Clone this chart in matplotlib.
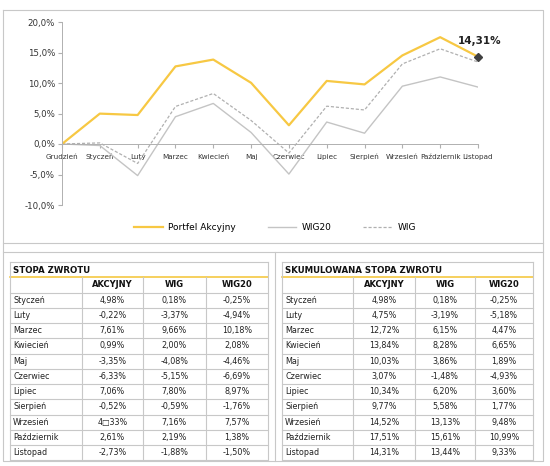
import numpy as np
import matplotlib.pyplot as plt
from matplotlib.lines import Line2D

# data
months = ['Grudzień', 'Styczeń', 'Luty', 'Marzec', 'Kwiecień', 'Maj', 'Czerwiec',
          'Lipiec', 'Sierpień', 'Wrzesień', 'Październik', 'Listopad']
cum_akcyjny = [0, 4.98, 4.75, 12.72, 13.84, 10.03, 3.07, 10.34, 9.77, 14.52, 17.51, 14.31]
cum_wig = [0, 0.18, -3.19, 6.15, 8.28, 3.86, -1.48, 6.20, 5.58, 13.13, 15.61, 13.44]
cum_wig20 = [0, -0.25, -5.18, 4.47, 6.65, 1.89, -4.93, 3.60, 1.77, 9.48, 10.99, 9.33]

table_cols = ['AKCYJNY', 'WIG', 'WIG20']
stopa_akcyjny = ['4,98%', '-0,22%', '7,61%', '0,99%', '-3,35%', '-6,33%', '7,06%', '-0,52%', '4\u25a133%', '2,61%', '-2,73%']
stopa_wig = ['0,18%', '-3,37%', '9,66%', '2,00%', '-4,08%', '-5,15%', '7,80%', '-0,59%', '7,16%', '2,19%', '-1,88%']
stopa_wig20 = ['-0,25%', '-4,94%', '10,18%', '2,08%', '-4,46%', '-6,69%', '8,97%', '-1,76%', '7,57%', '1,38%', '-1,50%']
skum_akcyjny = ['4,98%', '4,75%', '12,72%', '13,84%', '10,03%', '3,07%', '10,34%', '9,77%', '14,52%', '17,51%', '14,31%']
skum_wig = ['0,18%', '-3,19%', '6,15%', '8,28%', '3,86%', '-1,48%', '6,20%', '5,58%', '13,13%', '15,61%', '13,44%']
skum_wig20 = ['-0,25%', '-5,18%', '4,47%', '6,65%', '1,89%', '-4,93%', '3,60%', '1,77%', '9,48%', '10,99%', '9,33%']

W, H = 550, 466
fig = plt.figure(figsize=(5.5, 4.66), dpi=100)

# background layer in pixel coordinates
bg = fig.add_axes([0, 0, 1, 1])
bg.set_xlim(0, W)
bg.set_ylim(H, 0)
bg.axis('off')

grid_c = '#c8c8c8'
lw = 0.8
# outer frame
bg.plot([3, 543, 543, 3, 3], [10, 10, 461, 461, 10], color=grid_c, lw=lw)
bg.plot([3, 543], [243, 243], color=grid_c, lw=lw)
bg.plot([3, 543], [252, 252], color=grid_c, lw=lw)
bg.plot([275, 275], [252, 461], color=grid_c, lw=lw)


def draw_table(x_edges, title, labels, columns):
    top = 262
    rh = 15.25
    nrows = len(labels) + 2
    bottom = top + nrows * rh
    left, right = x_edges[0], x_edges[-1]
    for i in range(nrows + 1):
        if i == 1:
            continue
        y = top + i * rh
        bg.plot([left, right], [y, y], color=grid_c, lw=lw)
    bg.plot([left, right], [top + rh, top + rh], color='#f5c842', lw=1.2)
    bg.plot([left, left], [top, bottom], color=grid_c, lw=lw)
    bg.plot([right, right], [top, bottom], color=grid_c, lw=lw)
    for xe in x_edges[1:-1]:
        bg.plot([xe, xe], [top + rh, bottom], color=grid_c, lw=lw)
    bg.text(left + 3, top + rh / 2 + 0.5, title, fontsize=6.2, fontweight='bold',
            ha='left', va='center', color='#111111')
    for j, name in enumerate(table_cols):
        xc = (x_edges[j + 1] + x_edges[j + 2]) / 2
        bg.text(xc, top + 1.5 * rh, name, fontsize=6, fontweight='bold',
                ha='center', va='center', color='#111111')
    for i, lab in enumerate(labels):
        yc = top + (i + 2.5) * rh
        bg.text(left + 3, yc, lab, fontsize=5.8, ha='left', va='center', color='#222222')
        for j, col in enumerate(columns):
            xc = (x_edges[j + 1] + x_edges[j + 2]) / 2
            bg.text(xc, yc, col[i], fontsize=5.8, ha='center', va='center', color='#222222')


draw_table([10, 82, 143, 206, 268], 'STOPA ZWROTU', months[1:],
           [stopa_akcyjny, stopa_wig, stopa_wig20])
draw_table([282, 353, 415, 475, 533], 'SKUMULOWANA STOPA ZWROTU', months[1:],
           [skum_akcyjny, skum_wig, skum_wig20])

# line chart
ax = fig.add_axes([62 / W, 1 - 205 / H, 416 / W, 183 / H])
ax.patch.set_alpha(0)
x = np.arange(len(months))
ax.plot(x, cum_wig20, color='#c4c4c4', lw=1.0)
ax.plot(x, cum_wig, color='#b0b0b0', lw=0.9, ls=(0, (2.5, 1.5)))
ax.plot(x, cum_akcyjny, color='#f7c843', lw=1.6)
ax.plot(x[-1], cum_akcyjny[-1], marker='D', color='#404040', ms=4, clip_on=False)
ax.text(x[-1] + 0.05, cum_akcyjny[-1] + 2.6, '14,31%', fontsize=7.5, fontweight='bold',
        ha='center', va='center', color='#222222')

ax.set_xlim(0, 11)
ax.set_ylim(-10, 20)
yt = np.arange(-10, 21, 5)
ax.set_yticks(yt)
ax.set_yticklabels(['{:.1f}%'.format(v).replace('.', ',') for v in yt])
ax.set_xticks(x)
ax.set_xticklabels(months)
for s in ['top', 'right']:
    ax.spines[s].set_visible(False)
ax.spines['bottom'].set_position(('data', 0))
ax.spines['bottom'].set_color('#b0b0b0')
ax.spines['left'].set_color('#b0b0b0')
ax.spines['bottom'].set_linewidth(0.7)
ax.spines['left'].set_linewidth(0.7)
ax.tick_params(axis='y', labelsize=6.2, length=3, color='#b0b0b0', labelcolor='#333333', pad=2)
ax.tick_params(axis='x', labelsize=5.2, length=3, color='#b0b0b0', labelcolor='#333333', pad=4)

handles = [Line2D([], [], color='#f7c843', lw=1.6),
           Line2D([], [], color='#c4c4c4', lw=1.0),
           Line2D([], [], color='#b0b0b0', lw=0.9, ls=(0, (2.5, 1.5)))]
fig.legend(handles, ['Portfel Akcyjny', 'WIG20', 'WIG'], loc='center',
           bbox_to_anchor=(275 / W, 1 - 228 / H), ncol=3, frameon=False,
           fontsize=6.5, handlelength=3.2, columnspacing=3.5, handletextpad=0.6)

fig.savefig('out.png', dpi=100)
